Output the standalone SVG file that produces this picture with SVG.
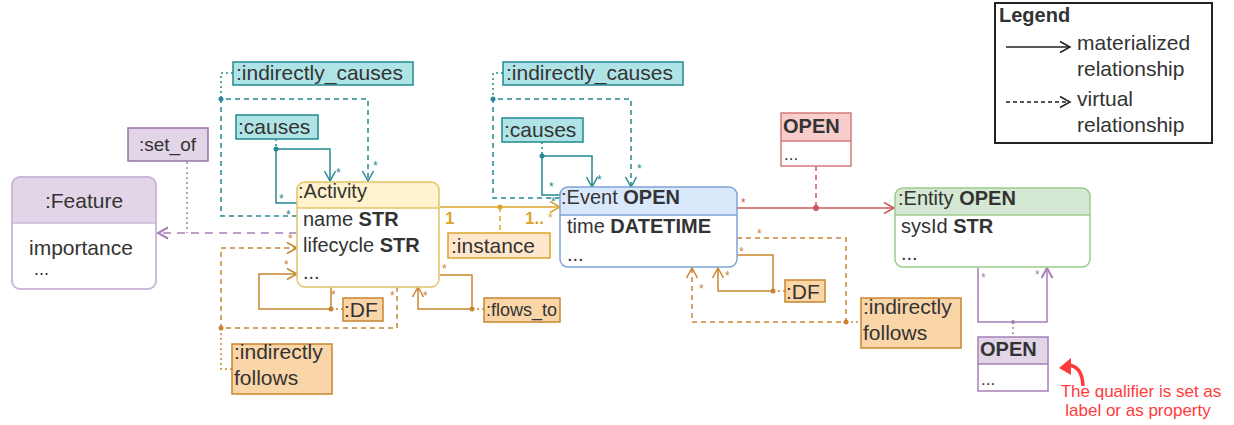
<svg xmlns="http://www.w3.org/2000/svg" width="1234" height="425" viewBox="0 0 1234 425">
<style>
text{font-family:"Liberation Sans",Arial,sans-serif;fill:#333}
.f20{font-size:20px}.f21{font-size:21px}.b{font-weight:bold}
.star{font-size:12px}
.ln{fill:none;stroke-width:1.5}
.dash{stroke-dasharray:5 4}.dot{stroke-dasharray:2 3}
.teal{stroke:#23898f}.or{stroke:#c8852f}.gold{stroke:#dba52c}.red{stroke:#c85a5a}.pur{stroke:#a680b8}
.lteal{fill:#b0e3e6;stroke:#1f8b91;stroke-width:1.5}
.lor{fill:#f9d5a8;stroke:#c8852f;stroke-width:1.5}
.lins{fill:#ffe6cc;stroke:#dba52c;stroke-width:1.5}
.lpur{fill:#e1d5e7;stroke:#9673a6;stroke-width:1.5}
</style>
<defs>
<marker id="aT" markerUnits="userSpaceOnUse" markerWidth="14" markerHeight="14" refX="12" refY="7" orient="auto"><path d="M2,1.5 L12,7 L2,12.5" fill="none" stroke="#23898f" stroke-width="1.5"/></marker>
<marker id="aO" markerUnits="userSpaceOnUse" markerWidth="14" markerHeight="14" refX="12" refY="7" orient="auto"><path d="M2,1.5 L12,7 L2,12.5" fill="none" stroke="#c8852f" stroke-width="1.5"/></marker>
<marker id="aG" markerUnits="userSpaceOnUse" markerWidth="14" markerHeight="14" refX="12" refY="7" orient="auto"><path d="M2,1.5 L12,7 L2,12.5" fill="none" stroke="#dba52c" stroke-width="1.5"/></marker>
<marker id="aR" markerUnits="userSpaceOnUse" markerWidth="14" markerHeight="14" refX="12" refY="7" orient="auto"><path d="M2,1.5 L12,7 L2,12.5" fill="none" stroke="#c85a5a" stroke-width="1.5"/></marker>
<marker id="aP" markerUnits="userSpaceOnUse" markerWidth="14" markerHeight="14" refX="12" refY="7" orient="auto"><path d="M2,1.5 L12,7 L2,12.5" fill="none" stroke="#a680b8" stroke-width="2"/></marker>
<marker id="aK" markerUnits="userSpaceOnUse" markerWidth="14" markerHeight="14" refX="12" refY="7" orient="auto"><path d="M2,1.5 L12,7 L2,12.5" fill="none" stroke="#222" stroke-width="1.5"/></marker>
</defs>
<rect width="1234" height="425" fill="#fff"/>

<g id="connectors">
  <!-- set_of -->
  <path class="ln pur" d="M297,233 H158" stroke-width="2.5" stroke-dasharray="8 6" marker-end="url(#aP)"/>
  <path class="ln pur dot" d="M187,162 V233"/>
  <!-- Activity indirectly_causes -->
  <path class="ln teal dash" d="M297,216 H221 V99 H368 V181" marker-end="url(#aT)"/>
  <path class="ln teal dot" d="M233,73 H221 V99"/>
  <circle cx="221" cy="99" r="2.5" fill="#23898f"/>
  <!-- Activity causes -->
  <path class="ln teal" d="M297,203 H276 V149 H330 V181" marker-end="url(#aT)"/>
  <path class="ln teal dot" d="M276,139 V149"/>
  <circle cx="276" cy="149" r="2.5" fill="#23898f"/>
  <!-- Event indirectly_causes -->
  <path class="ln teal dash" d="M560,198 H493 V99 H631 V187" marker-end="url(#aT)"/>
  <path class="ln teal dot" d="M503,73 H493 V99"/>
  <circle cx="493" cy="99" r="2.5" fill="#23898f"/>
  <!-- Event causes -->
  <path class="ln teal" d="M560,195 H542 V156 H592 V187" marker-end="url(#aT)"/>
  <path class="ln teal dot" d="M542,142 V156"/>
  <circle cx="542" cy="156" r="2.5" fill="#23898f"/>
  <!-- instance -->
  <path class="ln gold" d="M440,207 H560" marker-end="url(#aG)"/>
  <path class="ln gold dash" d="M500,207 V233"/>
  <circle cx="500" cy="207" r="2.5" fill="#dba52c"/>
  <!-- Activity DF -->
  <path class="ln or" d="M331,287 V309 H259 V274 H297" marker-end="url(#aO)"/>
  <path class="ln or dot" d="M331,309 H343"/>
  <circle cx="331" cy="309" r="2.5" fill="#c8852f"/>
  <!-- Activity indirectly follows -->
  <path class="ln or dash" d="M397,287 V328 H221 V248 H297" marker-end="url(#aO)"/>
  <path class="ln or dot" d="M221,328 V369 H232"/>
  <circle cx="221" cy="328" r="2.5" fill="#c8852f"/>
  <!-- flows_to -->
  <path class="ln or" d="M440,275 H472 V309 H418 V287" marker-end="url(#aO)"/>
  <path class="ln or dot" d="M472,309 H484"/>
  <circle cx="472" cy="309" r="2.5" fill="#c8852f"/>
  <!-- Event DF -->
  <path class="ln or" d="M737,255 H773 V291 H718 V268" marker-end="url(#aO)"/>
  <path class="ln or dot" d="M773,291 H785"/>
  <circle cx="773" cy="291" r="2.5" fill="#c8852f"/>
  <!-- Event indirectly follows -->
  <path class="ln or dash" d="M737,238 H846 V322 H692 V268" marker-end="url(#aO)"/>
  <path class="ln or dot" d="M846,322 H861"/>
  <circle cx="846" cy="322" r="2.5" fill="#c8852f"/>
  <!-- Event -> Entity -->
  <path class="ln red" d="M737,208 H894" marker-end="url(#aR)"/>
  <path class="ln red dash" d="M816,166 V208"/>
  <circle cx="816" cy="208" r="3" fill="#c85a5a"/>
  <!-- Entity loop -->
  <path class="ln pur" d="M978,268 V322 H1047 V268" marker-end="url(#aP)"/>
  <path class="ln pur dot" d="M1013,322 V337"/>
  <circle cx="1013" cy="322" r="2" fill="#a680b8"/>

  <!-- multiplicities -->
  <g class="star">
    <text x="279" y="203" style="fill:#23898f">*</text>
    <text x="336" y="177" style="fill:#23898f">*</text>
    <text x="286" y="219" style="fill:#23898f">*</text>
    <text x="373" y="170" style="fill:#23898f">*</text>
    <text x="549" y="191" style="fill:#23898f">*</text>
    <text x="597" y="184" style="fill:#23898f">*</text>
    <text x="551" y="206" style="fill:#23898f">*</text>
    <text x="637" y="173" style="fill:#23898f">*</text>
    <text x="548" y="222" style="fill:#dba52c">*</text>
    <text x="284" y="269" style="fill:#c8852f">*</text>
    <text x="331" y="299" style="fill:#c8852f">*</text>
    <text x="288" y="243" style="fill:#c8852f">*</text>
    <text x="390" y="300" style="fill:#c8852f">*</text>
    <text x="442" y="273" style="fill:#c8852f">*</text>
    <text x="423" y="300" style="fill:#c8852f">*</text>
    <text x="739" y="256" style="fill:#c8852f">*</text>
    <text x="725" y="280" style="fill:#c8852f">*</text>
    <text x="757" y="238" style="fill:#c8852f">*</text>
    <text x="699" y="293" style="fill:#c8852f">*</text>
    <text x="729" y="200" style="fill:#c85a5a">*</text>
    <text x="741" y="207" style="fill:#c85a5a">*</text>
    <text x="981" y="282" style="fill:#a680b8">*</text>
    <text x="1035" y="279" style="fill:#a680b8">*</text>
  </g>
  <text x="445" y="224" style="font-size:17px;fill:#dba52c;font-weight:bold">1</text>
  <text x="525" y="224" style="font-size:17px;fill:#dba52c;font-weight:bold">1..</text>
</g>

<!-- Feature -->
<g id="feature">
  <path d="M12,223 V185 Q12,177 20,177 H148 Q156,177 156,185 V223 Z" fill="#e1d5e7"/>
  <path d="M12,223 H156 V281 Q156,289 148,289 H20 Q12,289 12,281 Z" fill="#fff"/>
  <rect x="12" y="177" width="144" height="112" rx="8" fill="none" stroke="#cdb9da" stroke-width="2"/>
  <line x1="12" y1="223" x2="156" y2="223" stroke="#cdb9da" stroke-width="1.5"/>
  <text x="84" y="208" text-anchor="middle" class="f21">:Feature</text>
  <text x="29" y="255" class="f21">importance</text>
  <text x="34" y="275" style="font-size:18px">...</text>
</g>

<g id="set_of"><rect x="128" y="128" width="80" height="33" class="lpur"/><text x="139" y="151" style="font-size:19px">:set_of</text></g>

<!-- Activity -->
<g id="activity">
  <path d="M297,208 V190 Q297,182 305,182 H431 Q439,182 439,190 V208 Z" fill="#fff2cc"/>
  <path d="M297,208 H439 V279 Q439,287 431,287 H305 Q297,287 297,279 Z" fill="#fff"/>
  <rect x="297" y="182" width="142" height="105" rx="8" fill="none" stroke="#e2c46a" stroke-width="1.5"/>
  <line x1="297" y1="208" x2="439" y2="208" stroke="#e2c46a" stroke-width="1.5"/>
  <text x="298" y="198" class="f20">:Activity</text>
  <text x="303" y="226" class="f20">name <tspan class="b">STR</tspan></text>
  <text x="303" y="252" class="f20">lifecycle <tspan class="b">STR</tspan></text>
  <text x="303" y="279" class="f20">...</text>
</g>

<g id="ic_left"><rect x="233" y="62" width="180" height="23" class="lteal"/><text x="236" y="80" class="f21">:indirectly_causes</text></g>
<g id="causes_left"><rect x="236" y="115" width="82" height="24" class="lteal"/><text x="238" y="134" class="f21">:causes</text></g>
<g id="ic_right"><rect x="503" y="62" width="180" height="23" class="lteal"/><text x="506" y="80" class="f21">:indirectly_causes</text></g>
<g id="causes_right"><rect x="502" y="118" width="81" height="24" class="lteal"/><text x="504" y="137" class="f21">:causes</text></g>

<g id="instance"><rect x="448" y="233" width="102" height="25" class="lins"/><text x="451" y="253" class="f21">:instance</text></g>
<g id="df_left"><rect x="343" y="298" width="40" height="23" class="lor"/><text x="344" y="317" class="f21">:DF</text></g>
<g id="flows_to"><rect x="484" y="298" width="76" height="24" class="lor"/><text x="486" y="316" style="font-size:18px">:flows_to</text></g>
<g id="if_left"><rect x="232" y="344" width="100" height="50" class="lor"/><text x="234" y="359" class="f21">:indirectly</text><text x="234" y="385" class="f21">follows</text></g>

<!-- Event -->
<g id="event">
  <path d="M560,215 V195 Q560,187 568,187 H729 Q737,187 737,195 V215 Z" fill="#dae8fc"/>
  <path d="M560,215 H737 V259 Q737,267 729,267 H568 Q560,267 560,259 Z" fill="#fff"/>
  <rect x="560" y="187" width="177" height="80" rx="8" fill="none" stroke="#7fa3d9" stroke-width="1.5"/>
  <line x1="560" y1="215" x2="737" y2="215" stroke="#7fa3d9" stroke-width="1.5"/>
  <text x="561" y="204" class="f20">:Event <tspan class="b">OPEN</tspan></text>
  <text x="567" y="233" class="f20">time <tspan class="b">DATETIME</tspan></text>
  <text x="567" y="261" class="f20">...</text>
</g>

<g id="df_right"><rect x="785" y="280" width="40" height="22" class="lor"/><text x="786" y="299" class="f21">:DF</text></g>
<g id="if_right"><rect x="861" y="298" width="100" height="50" class="lor"/><text x="863" y="314" class="f21">:indirectly</text><text x="863" y="340" class="f21">follows</text></g>

<!-- OPEN (red) -->
<g id="open_red">
  <rect x="781" y="113" width="70" height="28" fill="#f8cecc"/>
  <rect x="781" y="141" width="70" height="25" fill="#fff"/>
  <rect x="781" y="113" width="70" height="53" fill="none" stroke="#d47b78" stroke-width="1.5"/>
  <line x1="781" y1="141" x2="851" y2="141" stroke="#d47b78" stroke-width="1.5"/>
  <text x="783" y="133" class="f20 b">OPEN</text>
  <text x="784" y="160" style="font-size:17px">...</text>
</g>

<!-- Entity -->
<g id="entity">
  <path d="M895,215 V196 Q895,188 903,188 H1082 Q1090,188 1090,196 V215 Z" fill="#d5e8d4"/>
  <path d="M895,215 H1090 V259 Q1090,267 1082,267 H903 Q895,267 895,259 Z" fill="#fff"/>
  <rect x="895" y="188" width="195" height="79" rx="8" fill="none" stroke="#9ccb8c" stroke-width="1.5"/>
  <line x1="895" y1="215" x2="1090" y2="215" stroke="#9ccb8c" stroke-width="1.5"/>
  <text x="898" y="205" class="f20">:Entity <tspan class="b">OPEN</tspan></text>
  <text x="901" y="233" class="f20">sysId <tspan class="b">STR</tspan></text>
  <text x="901" y="260" class="f20">...</text>
</g>

<!-- OPEN (purple) -->
<g id="open_purple">
  <rect x="978" y="337" width="70" height="27" fill="#e1d5e7"/>
  <rect x="978" y="364" width="70" height="27" fill="#fff"/>
  <rect x="978" y="337" width="70" height="54" fill="none" stroke="#a680b8" stroke-width="1.5"/>
  <line x1="978" y1="364" x2="1048" y2="364" stroke="#a680b8" stroke-width="1.5"/>
  <text x="980" y="356" class="f20 b">OPEN</text>
  <text x="981" y="385" style="font-size:17px">...</text>
</g>

<!-- note -->
<g id="note">
  <path d="M1067,365 Q1082,365 1083,386" fill="none" stroke="#ff3b3b" stroke-width="3.5"/>
  <polygon points="1059,368 1071,358 1071,375" fill="#ff3b3b"/>
  <text x="1141" y="397" text-anchor="middle" style="font-size:17px;fill:#ff3b3b">The qualifier is set as</text>
  <text x="1138" y="416" text-anchor="middle" style="font-size:17px;fill:#ff3b3b">label or as property</text>
</g>

<!-- Legend -->
<g id="legend">
  <rect x="995" y="3" width="217" height="140" fill="#fff" stroke="#222" stroke-width="2"/>
  <text x="999" y="22" class="b" style="font-size:20px">Legend</text>
  <path d="M1006,47 H1070" fill="none" stroke="#222" stroke-width="1.5" marker-end="url(#aK)"/>
  <text x="1077" y="50" style="font-size:21px">materialized</text>
  <text x="1077" y="76" style="font-size:21px">relationship</text>
  <path d="M1006,102 H1070" fill="none" stroke="#222" stroke-width="1.5" stroke-dasharray="4 3" marker-end="url(#aK)"/>
  <text x="1077" y="106" style="font-size:21px">virtual</text>
  <text x="1077" y="132" style="font-size:21px">relationship</text>
</g>
</svg>
